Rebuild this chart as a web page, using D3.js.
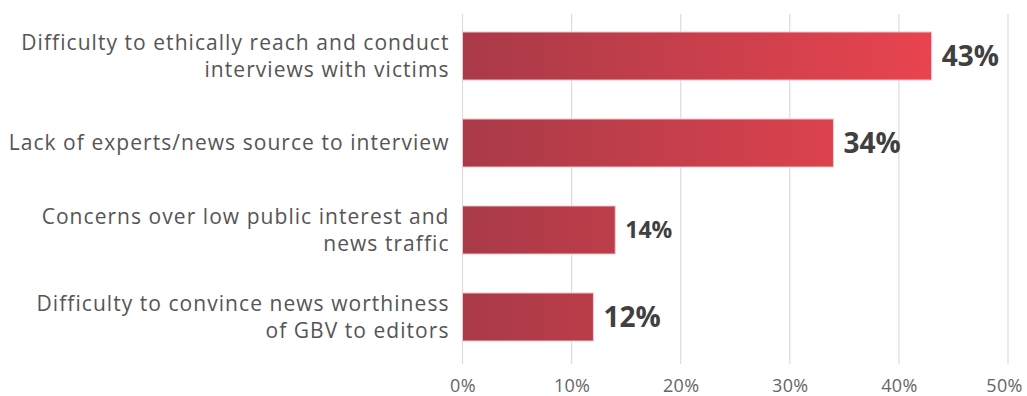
<!DOCTYPE html>
<html>
<head>
<meta charset="utf-8">
<script src="https://cdn.jsdelivr.net/npm/d3@7"></script>
<style>
  html, body { margin: 0; padding: 0; background: #fff; }
  svg { display: block; }
</style>
</head>
<body>
<svg id="chart" width="1027" height="396"></svg>
<script>
// Survey: obstacles to reporting on gender-based violence
const categories = [
  ["Difficulty to ethically reach and conduct", "interviews with victims"],
  ["Lack of experts/news source to interview"],
  ["Concerns over low public interest and", "news traffic"],
  ["Difficulty to convince news worthiness", "of GBV to editors"]
];
const values = [43, 34, 14, 12];
const valueLabelSizes = [28, 28, 23, 28];
const ticks = [0, 10, 20, 30, 40, 50];

const svg = d3.select("#chart");
const W = 1027, H = 396;
const plotLeft = 462.5, plotRight = 1008, plotTop = 14, plotBottom = 364;

const x = d3.scaleLinear().domain([0, 50]).range([plotLeft, plotRight]);
const y = d3.scaleBand()
  .domain(d3.range(categories.length))
  .range([32, 341])
  .paddingInner(0.448)
  .paddingOuter(0);

const font = "'Open Sans', sans-serif";

// gradient for bars
const defs = svg.append("defs");
const grad = defs.append("linearGradient")
  .attr("id", "barGrad")
  .attr("gradientUnits", "userSpaceOnUse")
  .attr("x1", x(0)).attr("x2", x(43)).attr("y1", 0).attr("y2", 0);
grad.append("stop").attr("offset", "0%").attr("stop-color", "#a93a48");
grad.append("stop").attr("offset", "100%").attr("stop-color", "#e8444f");

// vertical gridlines
svg.append("g")
  .selectAll("line")
  .data(ticks)
  .join("line")
  .attr("x1", d => x(d)).attr("x2", d => x(d))
  .attr("y1", plotTop).attr("y2", plotBottom)
  .attr("stroke", "#dcdcdc")
  .attr("stroke-width", 1.2);

// axis tick labels
const axis = d3.axisBottom(x).tickValues(ticks).tickFormat(d => d + "%").tickSize(0).tickPadding(0);
const gAxis = svg.append("g")
  .attr("transform", `translate(0, ${H - 4})`)
  .call(axis);
gAxis.select(".domain").remove();
gAxis.selectAll("text")
  .attr("dy", 0)
  .attr("font-family", font)
  .attr("font-size", 18)
  .attr("letter-spacing", "0.3px")
  .attr("fill", "#666");
// keep the last tick label inside the frame
gAxis.selectAll(".tick").filter(d => d === 50).select("text").attr("dx", -4);

// bars
svg.append("g")
  .selectAll("rect")
  .data(values)
  .join("rect")
  .attr("x", x(0))
  .attr("y", (d, i) => y(i))
  .attr("width", d => x(d) - x(0))
  .attr("height", y.bandwidth())
  .attr("fill", "url(#barGrad)")
  .attr("stroke", "#f0c8cc")
  .attr("stroke-width", 1);

// value labels
svg.append("g")
  .selectAll("text")
  .data(values)
  .join("text")
  .attr("x", d => x(d) + 10)
  .attr("y", (d, i) => y(i) + y.bandwidth() / 2)
  .attr("dy", "0.36em")
  .attr("font-family", font)
  .attr("font-weight", 700)
  .attr("font-size", (d, i) => valueLabelSizes[i])
  .attr("fill", "#404040")
  .text(d => d + "%");

// category labels
const lineH = 27;
const cat = svg.append("g")
  .selectAll("text")
  .data(categories)
  .join("text")
  .attr("text-anchor", "end")
  .attr("font-family", font)
  .attr("font-size", 21)
  .attr("letter-spacing", "1.05px")
  .attr("fill", "#555")
  .attr("transform", (d, i) => `translate(${x(0) - 13}, ${y(i) + y.bandwidth() / 2 - (d.length - 1) * lineH / 2})`);
cat.selectAll("tspan")
  .data(d => d)
  .join("tspan")
  .attr("x", 0)
  .attr("y", (d, i) => i * lineH)
  .attr("dy", "0.35em")
  .text(d => d);
</script>
</body>
</html>
